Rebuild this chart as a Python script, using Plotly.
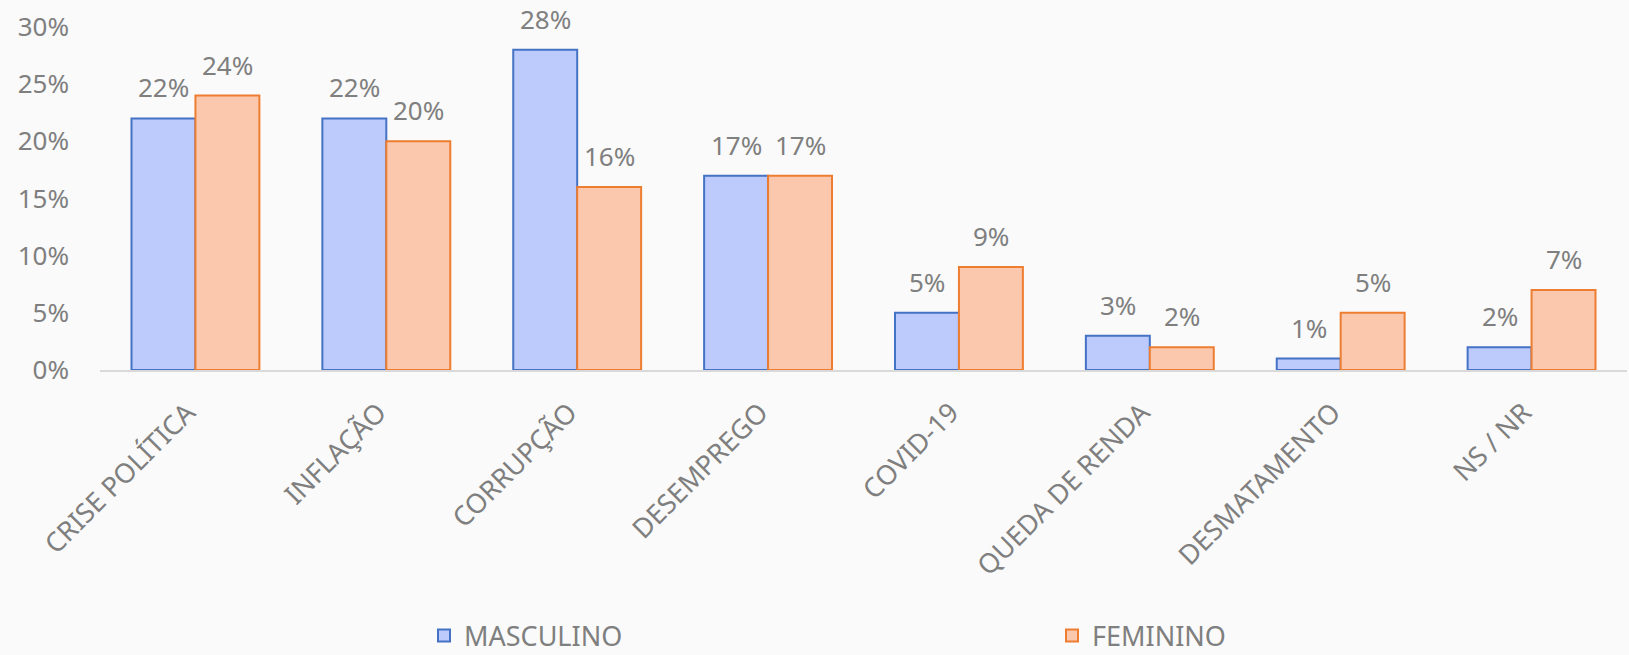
import plotly.graph_objects as go

categories = ["CRISE POLÍTICA", "INFLAÇÃO", "CORRUPÇÃO", "DESEMPREGO",
              "COVID-19", "QUEDA DE RENDA", "DESMATAMENTO", "NS / NR"]
masculino = [22, 22, 28, 17, 5, 3, 1, 2]
feminino = [24, 20, 16, 17, 9, 2, 5, 7]
y_ticks = [0, 5, 10, 15, 20, 25, 30]

GRAY = "#7f7f7f"
FONT = "Noto Sans"
BARGAP = 0.33

fig = go.Figure()
fig.add_trace(go.Bar(
    x=categories, y=masculino, name="MASCULINO",
    marker=dict(color="#bccbfc", line=dict(color="#4472c4", width=2)),
))
fig.add_trace(go.Bar(
    x=categories, y=feminino, name="FEMININO",
    marker=dict(color="#fcc8ad", line=dict(color="#ed7d31", width=2)),
))

# data labels above each bar (grouped offsets in category units)
half = (1 - BARGAP) / 4
annotations = []
for i, (m, f) in enumerate(zip(masculino, feminino)):
    for off, v in ((-half, m), (half, f)):
        annotations.append(dict(
            x=i + off, y=v, xref="x", yref="y", text=f"{v}%",
            showarrow=False, yanchor="bottom", yshift=11,
            font=dict(size=26, color=GRAY, family=FONT),
        ))

fig.update_layout(
    width=1629, height=655,
    margin=dict(l=100, r=2, t=27, b=285),
    paper_bgcolor="#fafafa", plot_bgcolor="#fafafa",
    font=dict(family=FONT, color=GRAY, size=26),
    barmode="group", bargap=BARGAP, bargroupgap=0,
    showlegend=True,
    legend=dict(orientation="h", xref="container", yref="container",
                x=424 / 1629, y=19 / 655, xanchor="left", yanchor="middle",
                entrywidth=583, font=dict(size=27, color=GRAY, family=FONT),
                bgcolor="rgba(0,0,0,0)"),
    annotations=annotations,
)
fig.update_xaxes(tickangle=-45, showline=True, linecolor="#d9d9d9", linewidth=2,
                 showgrid=False, ticks="", ticklabelstandoff=14, ticklabelshift=-8,
                 tickfont=dict(size=27, color=GRAY, family=FONT))
fig.update_yaxes(range=[0, 30], tickvals=y_ticks,
                 ticktext=[f"{t}%" for t in y_ticks], showgrid=False,
                 zeroline=False, showline=False, ticklabelstandoff=30,
                 tickfont=dict(size=26, color=GRAY, family=FONT))

fig.write_html("out.html", config={"displayModeBar": False},
               post_script="document.body.style.margin='0';")
